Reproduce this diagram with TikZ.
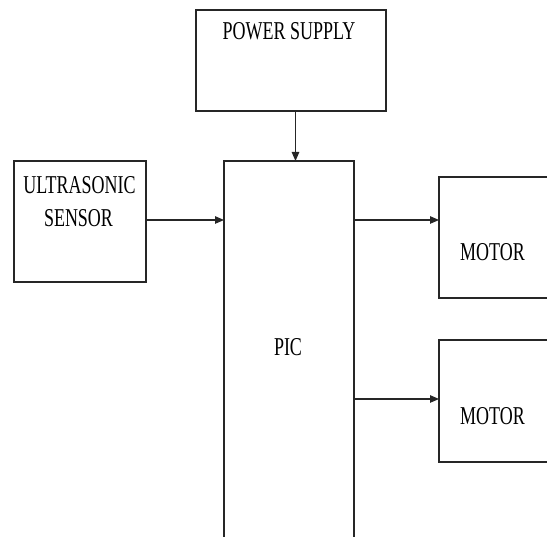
\documentclass[tikz,border=0pt]{standalone}
\usepackage{fontspec}
\setmainfont[FakeStretch=0.70]{Liberation Serif}
\usetikzlibrary{arrows.meta}
\begin{document}
\begin{tikzpicture}[x=1pt,y=-1pt,
  blk/.style={draw=black!85,line width=1.1pt,minimum width=#1,inner sep=0pt,outer sep=0pt},
  lbl/.style={anchor=base,inner sep=0pt,font=\fontsize{25.7}{33.7}\selectfont},
  arr/.style={draw=black!85,line width=1.1pt,-{Triangle[length=9pt,width=7.5pt]}}]
\useasboundingbox (0,0) rectangle (547,537);
\clip (0,0) rectangle (547,537);
\node[blk=190pt,minimum height=101pt] (power) at (291,60.5) {};
\node[blk=132pt,minimum height=121pt] (sensor) at (80,221.5) {};
\node[blk=130pt,minimum height=400pt] (pic) at (289,361) {};
\node[blk=121pt,minimum height=121pt] (m1) at (499.5,237.5) {};
\node[blk=121pt,minimum height=122pt] (m2) at (499.5,401) {};
\node[lbl] (tpower) at (289,39.3) {POWER SUPPLY};
\node[lbl] (tultra) at (79.5,193.3) {ULTRASONIC};
\node[lbl] (tsensor) at (78.5,227) {SENSOR};
\node[lbl] (tpic) at (288,355.7) {PIC};
\node[lbl] (tm1) at (492.5,261) {MOTOR};
\node[lbl] (tm2) at (492.5,424.3) {MOTOR};
\coordinate (vx) at (295.5,0);
\coordinate (hy1) at (0,220);
\coordinate (hy2) at (0,399);
\draw[arr] (power.south -| vx) -- (pic.north -| vx);
\draw[arr] (sensor.east |- hy1) -- (pic.west |- hy1);
\draw[arr] (pic.east |- hy1) -- (m1.west |- hy1);
\draw[arr] (pic.east |- hy2) -- (m2.west |- hy2);
\end{tikzpicture}
\end{document}
